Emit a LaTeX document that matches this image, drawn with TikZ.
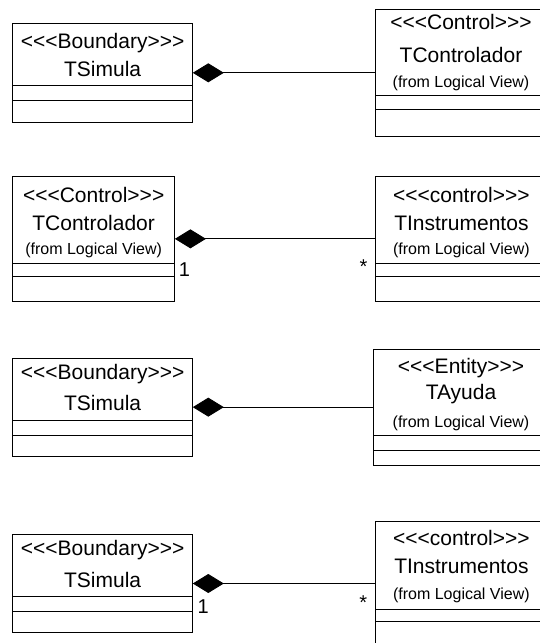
\documentclass[tikz,border=0pt]{standalone}
\usepackage{fontspec}
\newfontfamily\libsans{Liberation Sans}
\usetikzlibrary{arrows.meta}
\tikzset{
  cls/.style={draw=black, line width=0.9pt, inner sep=0pt, outer sep=0pt},
  divline/.style={draw=black, line width=0.9pt},
  big/.style={font=\libsans\fontsize{21}{24}\selectfont, inner sep=0pt, anchor=center},
  small/.style={font=\libsans\fontsize{16}{18}\selectfont, inner sep=0pt, anchor=center},
  mult/.style={font=\libsans\fontsize{20}{22}\selectfont, inner sep=0pt, anchor=center},
  comp/.style={draw=black, line width=0.9pt, -{Diamond[length=31pt,width=19pt,fill=black]}}
}
\begin{document}
\begin{tikzpicture}[x=1pt,y=-1pt]
\useasboundingbox (0,0) rectangle (540,643);
\fill[white] (0,0) rectangle (540,643);
% ---------- Row 1 ----------
\node[cls, minimum width=180.4pt, minimum height=99pt] (L1) at (102.6,72.8) {};
\draw[divline] (L1.west |- 0,85.3) -- (L1.east |- 0,85.3);
\draw[divline] (L1.west |- 0,100) -- (L1.east |- 0,100);
\node[big] (L1a) at (102.6,42.7) {<<<Boundary>>>};
\node[big] (L1b) at (102.6,69.3) {TSimula};
\node[cls, minimum width=184.7pt, minimum height=126.7pt] (R1) at (467.65,72.65) {};
\draw[divline] (R1.west |- 0,95) -- (R1.east |- 0,95);
\draw[divline] (R1.west |- 0,109.3) -- (R1.east |- 0,109.3);
\node[big] (R1a) at (461,21.7) {<<<Control>>>};
\node[big] (R1b) at (461,55) {TControlador};
\node[small] (R1c) at (461,83.3) {(from Logical View)};
\draw[comp] (R1.west |- L1.east) -- (L1.east);
% ---------- Row 2 ----------
\node[cls, minimum width=162.5pt, minimum height=125.7pt] (L2) at (93.65,238.85) {};
\draw[divline] (L2.west |- 0,263.3) -- (L2.east |- 0,263.3);
\draw[divline] (L2.west |- 0,276.7) -- (L2.east |- 0,276.7);
\node[big] (L2a) at (93.65,195) {<<<Control>>>};
\node[big] (L2b) at (93.65,223.3) {TControlador};
\node[small] (L2c) at (93.65,250) {(from Logical View)};
\node[cls, minimum width=184.7pt, minimum height=125.7pt] (R2) at (467.65,238.85) {};
\draw[divline] (R2.west |- 0,263.3) -- (R2.east |- 0,263.3);
\draw[divline] (R2.west |- 0,276.7) -- (R2.east |- 0,276.7);
\node[big] (R2a) at (461.4,195) {<<<control>>>};
\node[big] (R2b) at (461.4,223.3) {TInstrumentos};
\node[small] (R2c) at (461.4,250) {(from Logical View)};
\draw[comp] (R2.west |- L2.east) -- (L2.east);
\node[mult] (m21) at (184.4,270) {1};
\node[mult] (m22) at (363.5,267) {*};
% ---------- Row 3 ----------
\node[cls, minimum width=180.4pt, minimum height=97.7pt] (L3) at (102.6,407.15) {};
\draw[divline] (L3.west |- 0,420) -- (L3.east |- 0,420);
\draw[divline] (L3.west |- 0,435) -- (L3.east |- 0,435);
\node[big] (L3a) at (102.6,374.3) {<<<Boundary>>>};
\node[big] (L3b) at (102.6,403.3) {TSimula};
\node[cls, minimum width=186.4pt, minimum height=115.7pt] (R3) at (466.8,407.15) {};
\draw[divline] (R3.west |- 0,435) -- (R3.east |- 0,435);
\draw[divline] (R3.west |- 0,450) -- (R3.east |- 0,450);
\node[big] (R3a) at (461,368.3) {<<<Entity>>>};
\node[big] (R3b) at (461,394) {TAyuda};
\node[small] (R3c) at (461,423.3) {(from Logical View)};
\draw[comp] (R3.west |- L3.east) -- (L3.east);
% ---------- Row 4 ----------
\node[cls, minimum width=180.4pt, minimum height=98.4pt] (L4) at (102.6,583.5) {};
\draw[divline] (L4.west |- 0,596.7) -- (L4.east |- 0,596.7);
\draw[divline] (L4.west |- 0,611) -- (L4.east |- 0,611);
\node[big] (L4a) at (102.6,550) {<<<Boundary>>>};
\node[big] (L4b) at (102.6,580) {TSimula};
\node[cls, minimum width=184.7pt, minimum height=140pt] (R4) at (467.65,591.7) {};
\draw[divline] (R4.west |- 0,609) -- (R4.east |- 0,609);
\draw[divline] (R4.west |- 0,621.7) -- (R4.east |- 0,621.7);
\node[big] (R4a) at (461.4,538.3) {<<<control>>>};
\node[big] (R4b) at (461.4,566.7) {TInstrumentos};
\node[small] (R4c) at (461.4,595) {(from Logical View)};
\draw[comp] (R4.west |- L4.east) -- (L4.east);
\node[mult] (m41) at (203.2,606.7) {1};
\node[mult] (m42) at (363.3,603) {*};
\end{tikzpicture}
\end{document}
